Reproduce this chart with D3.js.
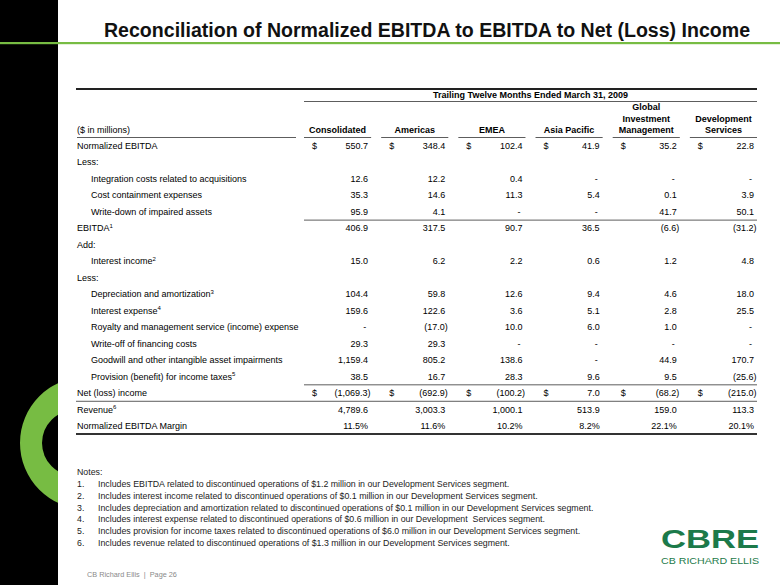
<!DOCTYPE html>
<html><head><meta charset="utf-8">
<script src="https://cdn.jsdelivr.net/npm/d3@7"></script>
<style>
html,body{margin:0;padding:0;background:#fff;}
svg text{font-family:"Liberation Sans",Arial,Helvetica,sans-serif;}
</style></head>
<body><svg id="c" width="780" height="585"></svg>
<script>
// ---------- data ----------
const title = "Reconciliation of Normalized EBITDA to EBITDA to Net (Loss) Income";
const periodLabel = "Trailing Twelve Months Ended March 31, 2009";
const unitLabel = "($ in millions)";
const columns = ["Consolidated","Americas","EMEA","Asia Pacific","Global Investment Management","Development Services"];
const columnHeaderLines = [["Consolidated"],["Americas"],["EMEA"],["Asia Pacific"],["Global","Investment","Management"],["Development","Services"]];
const rowLabels = ["Normalized EBITDA","Less:","Integration costs related to acquisitions","Cost containment expenses","Write-down of impaired assets","EBITDA","Add:","Interest income","Less:","Depreciation and amortization","Interest expense","Royalty and management service (income) expense","Write-off of financing costs","Goodwill and other intangible asset impairments","Provision (benefit) for income taxes","Net (loss) income","Revenue","Normalized EBITDA Margin"];
const rowKinds = ["main","main","sub","sub","sub","main","main","sub","main","sub","sub","sub","sub","sub","sub","main","main","main"];
const rowNoteRefs = [null,null,null,null,null,1,null,2,null,3,4,null,null,null,5,null,6,null];
const dollarRows = ["Normalized EBITDA","Net (loss) income"];
const percentRows = ["Normalized EBITDA Margin"];
// null = no value shown, 0 = dash
const consolidated = [550.7,null,12.6,35.3,95.9,406.9,null,15.0,null,104.4,159.6,0,29.3,1159.4,38.5,-1069.3,4789.6,11.5];
const americas     = [348.4,null,12.2,14.6,4.1,317.5,null,6.2,null,59.8,122.6,-17.0,29.3,805.2,16.7,-692.9,3003.3,11.6];
const emea         = [102.4,null,0.4,11.3,0,90.7,null,2.2,null,12.6,3.6,10.0,0,138.6,28.3,-100.2,1000.1,10.2];
const asiaPacific  = [41.9,null,0,5.4,0,36.5,null,0.6,null,9.4,5.1,6.0,0,0,9.6,7.0,513.9,8.2];
const globalInvMgmt= [35.2,null,0,0.1,41.7,-6.6,null,1.2,null,4.6,2.8,1.0,0,44.9,9.5,-68.2,159.0,22.1];
const devServices  = [22.8,null,0,3.9,50.1,-31.2,null,4.8,null,18.0,25.5,0,0,170.7,-25.6,-215.0,113.3,20.1];
const seriesValues = [consolidated,americas,emea,asiaPacific,globalInvMgmt,devServices];
const notesHeading = "Notes:";
const notes = [
 "Includes EBITDA related to discontinued operations of $1.2 million in our Development Services segment.",
 "Includes interest income related to discontinued operations of $0.1 million in our Development Services segment.",
 "Includes depreciation and amortization related to discontinued operations of $0.1 million in our Development Services segment.",
 "Includes interest expense related to discontinued operations of $0.6 million in our Development  Services segment.",
 "Includes provision for income taxes related to discontinued operations of $6.0 million in our Development Services segment.",
 "Includes revenue related to discontinued operations of $1.3 million in our Development Services segment."
];
const footer = "CB Richard Ellis  |  Page 26";

// ---------- drawing ----------
const svg = d3.select("#c");
const W = 780, H = 585;
const BLACK_W = 58;
const GREEN = "#77bc43";

// left black band with green ring
svg.append("rect").attr("x",0).attr("y",0).attr("width",BLACK_W).attr("height",H).attr("fill","#000");
svg.append("clipPath").attr("id","bandClip").append("rect").attr("x",0).attr("y",0).attr("width",BLACK_W).attr("height",H);
const ring = d3.path();
ring.moveTo(86+66,443); ring.arc(86,443,66,0,2*Math.PI);
ring.moveTo(75+33,443); ring.arc(75,443,33,0,2*Math.PI);
svg.append("path").attr("d",ring.toString()).attr("fill",GREEN).attr("fill-rule","evenodd").attr("clip-path","url(#bandClip)");

// title
svg.append("text").attr("x",104).attr("y",37).attr("font-size",20).attr("font-weight","bold").attr("fill","#111")
  .attr("textLength",646).attr("lengthAdjust","spacingAndGlyphs").text(title);
svg.append("rect").attr("x",0).attr("y",42).attr("width",W).attr("height",2.2).attr("fill",GREEN);

// table scales
const x = d3.scaleBand().domain(columns).range([304,757]).paddingInner(0.13).paddingOuter(0);
const rowIds = d3.range(rowLabels.length);
const y = d3.scalePoint().domain(rowIds).range([146,426]);
const LEFT = 77, RIGHT = 757;
const FS = 9;
const tbl = svg.append("g").attr("font-size",FS).attr("fill","#000");

// top rule
tbl.append("rect").attr("x",LEFT-1).attr("y",88).attr("width",RIGHT-LEFT+1).attr("height",2).attr("fill","#222");
tbl.append("text").attr("x",(x.range()[0]+x.range()[1])/2).attr("y",98).attr("text-anchor","middle")
  .attr("font-weight","bold").text(periodLabel);
tbl.append("line").attr("x1",x.range()[0]).attr("x2",RIGHT).attr("y1",101.5).attr("y2",101.5).attr("stroke","#333").attr("stroke-width",0.8);

// column headers
const headerBase = 133;
columns.forEach((c,i)=>{
  const lines = columnHeaderLines[i];
  const cx = x(c) + x.bandwidth()/2;
  lines.forEach((ln,j)=>{
    tbl.append("text").attr("x",cx).attr("y",headerBase - (lines.length-1-j)*11.5).attr("text-anchor","middle")
      .attr("font-weight","bold").text(ln);
  });
  tbl.append("line").attr("x1",x(c)).attr("x2",x(c)+x.bandwidth()).attr("y1",137.5).attr("y2",137.5).attr("stroke","#333").attr("stroke-width",0.8);
});
tbl.append("text").attr("x",LEFT).attr("y",headerBase).text(unitLabel);
tbl.append("line").attr("x1",LEFT).attr("x2",296).attr("y1",137.5).attr("y2",137.5).attr("stroke","#333").attr("stroke-width",0.8);

// rows
const fmtNum = d3.format(",.1f");
function fmt(v,isPct){
  if (v === null) return "";
  if (v === 0) return "-";
  const s = fmtNum(Math.abs(v)) + (isPct ? "%" : "");
  return v < 0 ? "(" + s + ")" : s;
}
rowIds.forEach(r=>{
  const yy = y(r) + 3;
  const lbl = tbl.append("text").attr("x", rowKinds[r]==="sub" ? 91 : LEFT).attr("y",yy);
  lbl.append("tspan").text(rowLabels[r]);
  if (rowNoteRefs[r] !== null) {
    lbl.append("tspan").attr("font-size",6).attr("dy",-3.5).text(rowNoteRefs[r]);
  }
  const isDollar = dollarRows.includes(rowLabels[r]);
  const isPct = percentRows.includes(rowLabels[r]);
  columns.forEach((c,i)=>{
    const v = seriesValues[i][r];
    if (v === null) return;
    const right = x(c) + x.bandwidth();
    if (isDollar) tbl.append("text").attr("x",x(c)+8).attr("y",yy).text("$");
    let xr = right - 3;
    if (v < 0) xr = right - 0.5;
    if (v === 0) xr = right - 5;
    tbl.append("text").attr("x",xr).attr("y",yy).attr("text-anchor","end").text(fmt(v,isPct));
  });
});

// rules inside table
const mid = (a,b)=> (y(a)+y(b))/2;
tbl.append("line").attr("x1",x.range()[0]).attr("x2",RIGHT).attr("y1",mid(4,5)).attr("y2",mid(4,5)).attr("stroke","#333").attr("stroke-width",0.8);
tbl.append("line").attr("x1",x.range()[0]).attr("x2",RIGHT).attr("y1",mid(14,15)).attr("y2",mid(14,15)).attr("stroke","#333").attr("stroke-width",0.8);
tbl.append("line").attr("x1",LEFT-1).attr("x2",RIGHT).attr("y1",mid(15,16)).attr("y2",mid(15,16)).attr("stroke","#333").attr("stroke-width",0.8);
tbl.append("rect").attr("x",LEFT-1).attr("y",y(17)+7).attr("width",RIGHT-LEFT+1).attr("height",2).attr("fill","#333");

// notes
const ng = svg.append("g").attr("font-size",8.8).attr("fill","#222");
ng.append("text").attr("x",77).attr("y",475).text(notesHeading);
notes.forEach((n,i)=>{
  ng.append("text").attr("x",77).attr("y",487 + i*11.8).text((i+1)+".");
  ng.append("text").attr("x",98).attr("y",487 + i*11.8).attr("xml:space","preserve").style("white-space","pre").text(n);
});

// footer
svg.append("text").attr("x",87).attr("y",577).attr("font-size",7.3).attr("fill","#8a8a8a")
  .style("white-space","pre").text(footer);

// logo
const LOGO = "#1c7a4a";
svg.append("text").attr("x",661).attr("y",548).attr("font-size",26).attr("font-weight","bold").attr("fill",LOGO)
  .attr("textLength",98).attr("lengthAdjust","spacingAndGlyphs").text("CBRE");
svg.append("text").attr("x",661).attr("y",564).attr("font-size",8.5).attr("fill",LOGO)
  .attr("textLength",98).attr("lengthAdjust","spacingAndGlyphs").text("CB RICHARD ELLIS");
</script></body></html>
